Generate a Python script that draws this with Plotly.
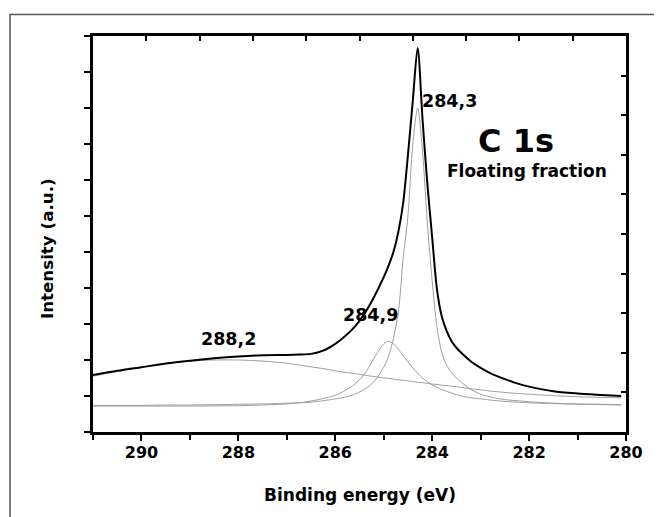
import plotly.graph_objects as go

# Binding energy grid (eV)
energy = [291.0, 290.5, 290.0, 289.5, 289.0, 288.5, 288.0, 287.5, 287.0, 286.75,
          286.5, 286.25, 286.0, 285.8, 285.6, 285.4, 285.2, 285.0, 284.9, 284.8,
          284.7, 284.6, 284.5, 284.4, 284.3, 284.2, 284.1, 284.0, 283.9, 283.8,
          283.7, 283.6, 283.5, 283.4, 283.2, 283.0, 282.75, 282.5, 282.25, 282.0,
          281.5, 281.0, 280.5, 280.1]

# Envelope (sum of fit), arbitrary units
envelope = [1.58, 1.70, 1.80, 1.90, 1.98, 2.05, 2.10, 2.13, 2.14, 2.15,
            2.17, 2.26, 2.45, 2.66, 2.92, 3.28, 3.75, 4.30, 4.62, 5.00,
            5.55, 6.35, 7.70, 9.20, 10.67, 8.70, 6.90, 5.40, 3.95, 3.20,
            2.80, 2.52, 2.34, 2.20, 1.96, 1.78, 1.60, 1.47, 1.35, 1.26,
            1.13, 1.07, 1.03, 1.00]

# Component at 288.2 eV
comp_2882 = [1.55, 1.68, 1.80, 1.90, 1.97, 2.00, 2.00, 1.97, 1.91, 1.86,
             1.81, 1.76, 1.70, 1.66, 1.62, 1.58, 1.54, 1.50, 1.49, 1.47,
             1.45, 1.44, 1.42, 1.40, 1.38, 1.37, 1.35, 1.33, 1.32, 1.30,
             1.29, 1.27, 1.26, 1.24, 1.20, 1.17, 1.13, 1.10, 1.07, 1.05,
             1.01, 0.98, 0.96, 0.95]

# Component at 284.9 eV
comp_2849 = [0.72, 0.72, 0.72, 0.72, 0.72, 0.725, 0.73, 0.75, 0.78, 0.81,
             0.86, 0.93, 1.02, 1.15, 1.33, 1.60, 2.05, 2.45, 2.52, 2.45,
             2.30, 2.12, 1.95, 1.78, 1.63, 1.50, 1.40, 1.31, 1.24, 1.18,
             1.13, 1.08, 1.04, 1.00, 0.95, 0.92, 0.88, 0.85, 0.83, 0.81,
             0.79, 0.77, 0.76, 0.75]

# Component at 284.3 eV
comp_2843 = [0.74, 0.74, 0.74, 0.75, 0.75, 0.76, 0.77, 0.78, 0.80, 0.81,
             0.83, 0.87, 0.92, 0.97, 1.05, 1.18, 1.40, 1.80, 2.10, 2.60,
             3.30, 4.80, 6.00, 8.00, 9.00, 7.80, 5.80, 4.20, 2.90, 2.20,
             1.85, 1.65, 1.50, 1.38, 1.18, 1.05, 0.96, 0.90, 0.87, 0.84,
             0.80, 0.78, 0.77, 0.76]

x_ticks = [290, 288, 286, 284, 282, 280]

peak_labels = ["288,2", "284,9", "284,3"]
peak_label_x = [288.21, 285.28, 283.65]
peak_label_y = [2.58, 3.26, 9.19]

FONT = "DejaVu Sans"

fig = go.Figure()
for comp in (comp_2882, comp_2849, comp_2843):
    fig.add_trace(go.Scatter(x=energy, y=comp, mode="lines",
                             line=dict(color="#9e9e9e", width=1, shape="spline", smoothing=0.8),
                             showlegend=False, hoverinfo="skip"))
fig.add_trace(go.Scatter(x=energy, y=envelope, mode="lines",
                         line=dict(color="black", width=2, shape="spline", smoothing=0.8),
                         showlegend=False, hoverinfo="skip"))
# empty trace to create the mirrored top/right axes
fig.add_trace(go.Scatter(x=[], y=[], xaxis="x2", yaxis="y2", showlegend=False, hoverinfo="skip"))

for txt, xx, yy in zip(peak_labels, peak_label_x, peak_label_y):
    fig.add_annotation(x=xx, y=yy, text=txt, showarrow=False,
                       font=dict(family=FONT, size=17.5, color="black", weight="bold"))

fig.add_annotation(x=282.27, y=8.08, text="C 1s", showarrow=False,
                   font=dict(family=FONT, size=32, color="black", weight="bold"))
fig.add_annotation(x=282.04, y=7.25, text="Floating fraction", showarrow=False,
                   font=dict(family=FONT, size=17, color="black", weight="bold"))

# axis titles
fig.add_annotation(xref="paper", yref="paper", x=0.5, y=-0.159, text="Binding energy (eV)",
                   showarrow=False, yanchor="middle",
                   font=dict(family=FONT, size=17, color="black", weight="bold"))
fig.add_annotation(xref="paper", yref="paper", x=-0.0863, y=0.462, text="Intensity (a.u.)",
                   showarrow=False, textangle=-90, xanchor="center", yanchor="middle",
                   font=dict(family=FONT, size=16.7, color="black", weight="bold"))

# outer frame
fig.add_shape(type="rect", xref="paper", yref="paper",
              x0=-0.1557, x1=1.2, y0=-0.4, y1=1.0543,
              line=dict(color="#555555", width=1.5), fillcolor="rgba(0,0,0,0)", layer="below")

axis_common = dict(showgrid=False, zeroline=False, showline=True, linecolor="black",
                   linewidth=2.5, tickcolor="black", tickwidth=2)

fig.update_layout(
    width=654, height=509,
    margin=dict(l=85, r=36, t=28, b=85),
    paper_bgcolor="white", plot_bgcolor="white",
    xaxis=dict(range=[291, 280], tickmode="array", tickvals=x_ticks,
               ticktext=[str(v) for v in x_ticks], ticks="outside", ticklen=6,
               ticklabelstandoff=-2,
               minor=dict(dtick=1, tick0=280, ticks="outside", ticklen=5,
                          tickcolor="black", tickwidth=1.5, showgrid=False),
               tickfont=dict(family=FONT, size=16, color="black", weight="bold"),
               **axis_common),
    xaxis2=dict(range=[0, 10], dtick=1, tick0=0, overlaying="x", side="top", anchor="y",
                ticks="inside", ticklen=5, showticklabels=False, **axis_common),
    yaxis=dict(range=[0, 11], dtick=1, tick0=0, ticks="outside", ticklen=6,
               showticklabels=False, **axis_common),
    yaxis2=dict(range=[0, 10], dtick=1, tick0=0, overlaying="y", side="right", anchor="x",
                ticks="inside", ticklen=5, showticklabels=False, **axis_common),
)

fig.write_html("out.html")
